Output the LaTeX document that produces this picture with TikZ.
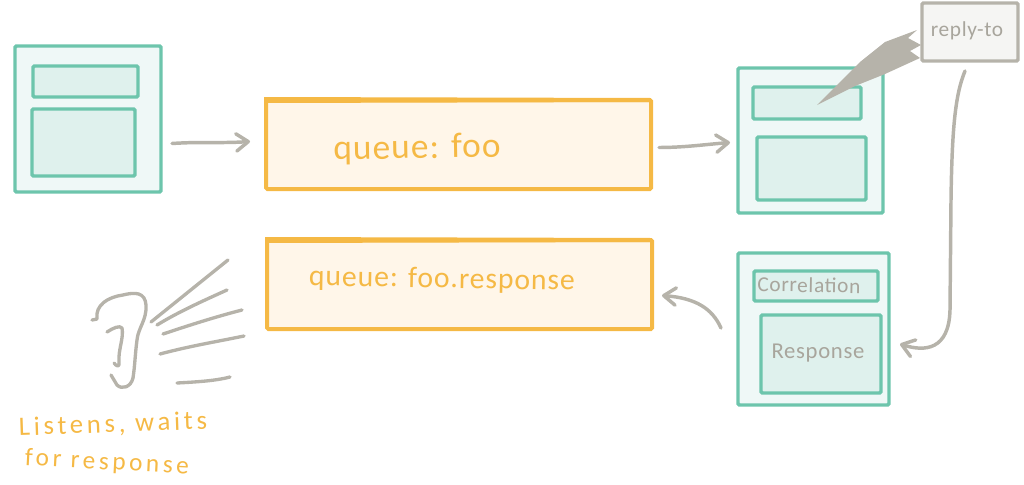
\documentclass[tikz,border=0pt]{standalone}
\usepackage{fontspec}
\usetikzlibrary{arrows.meta,calc}
\newfontfamily\hand[LetterSpace=3]{Carlito}
\newfontfamily\handwide[LetterSpace=14]{Carlito}
\definecolor{teal}{HTML}{6DC5AC}
\definecolor{tealA}{HTML}{EFF8F7}
\definecolor{tealB}{HTML}{DFF1ED}
\definecolor{amber}{HTML}{F5B945}
\definecolor{amberA}{HTML}{FFF6E9}
\definecolor{stone}{HTML}{B6B3AA}
\definecolor{paper}{HTML}{F5F5F3}
\tikzset{
  x=0.75pt,y=-0.75pt,
  basebox/.style={rectangle,inner sep=0pt,outer sep=0pt,rounded corners=1pt},
  msgouter/.style={basebox,draw=teal,fill=tealA,line width=2.6pt},
  msginner/.style={basebox,draw=teal,fill=tealB,line width=2.6pt},
  queuebox/.style={basebox,draw=amber,fill=amberA,line width=3pt},
  replybox/.style={basebox,draw=stone,fill=paper,line width=2.6pt},
  flow/.style={draw=stone,line width=2.6pt,line cap=round,line join=round,
    -{Straight Barb[length=9pt,width=13pt,line width=2.6pt,round]}},
  sketch/.style={draw=stone,line width=2.5pt,line cap=round,line join=round},
  amberlabel/.style={text=amber,inner sep=0pt},
  stonelabel/.style={text=stone!92!black,inner sep=0pt},
}
\newcommand{\bx}[6]{\node[#2,minimum width={(#5-#3)*0.75pt},minimum height={(#6-#4)*0.75pt}] (#1) at ({(#3+#5)/2},{(#4+#6)/2}) {};}
\begin{document}
\begin{tikzpicture}
\useasboundingbox (0,0) rectangle (1024,485);
% left message
\bx{msgA}{msgouter}{15}{46}{161}{192}
\bx{msgAh}{msginner}{33}{66}{138}{97}
\bx{msgAb}{msginner}{32}{109}{135}{176}
% queues
\bx{queueA}{queuebox}{266}{100}{651}{189}
\bx{queueB}{queuebox}{267}{240}{652}{329}
\fill[amber] (queueA.north west) ++(-2,-3) -- ++(386,1) -- ++(0,4) -- ++(-386,1) -- cycle;
\fill[amber] (queueB.north west) ++(-2,-3) -- ++(386,1) -- ++(0,4) -- ++(-386,1) -- cycle;
% right message
\bx{msgB}{msgouter}{738}{68}{883}{213}
\bx{msgBh}{msginner}{753}{87}{861}{119}
\bx{msgBb}{msginner}{757}{137}{866}{200}
% response message
\bx{msgC}{msgouter}{738}{253}{889}{405}
\bx{msgCh}{msginner}{754}{271}{878}{301}
\bx{msgCb}{msginner}{761}{315}{881}{393}
% reply-to
\bx{reply}{replybox}{922}{3}{1018}{61}
% texts
\node[amberlabel,font=\hand\fontsize{26.5pt}{26.5pt}\selectfont,rotate=1] (tQA) at (417,149) {queue: foo};
\node[amberlabel,font=\hand\fontsize{22.3pt}{22.3pt}\selectfont,rotate=-1] (tQB) at (442,280) {queue: foo.response};
\node[stonelabel,font=\hand\fontsize{16pt}{16pt}\selectfont] (tR) at (967,31) {reply-to};
\node[stonelabel,font=\hand\fontsize{16pt}{16pt}\selectfont,rotate=-1] (tC) at (809,285) {Correlation};
\node[stonelabel,font=\hand\fontsize{17pt}{17pt}\selectfont] (tP) at (818,353) {Response};
\node[amberlabel,font=\handwide\fontsize{20pt}{20pt}\selectfont,rotate=2] (tL1) at (113,425) {Listens, waits};
\node[amberlabel,font=\handwide\fontsize{19pt}{19pt}\selectfont,rotate=-3] (tL2) at (107,463) {for response};
% connectors
\coordinate (aS) at ($(msgA.east |- queueA.west)+(11,-1)$);
\coordinate (aE) at ($(queueA.west)+(-16,-3)$);
\draw[flow] (aS) .. controls ($(aS)+(30,-2)$) and ($(aE)+(-30,2)$) .. (aE);
\coordinate (bS) at ($(queueA.east)+(8,3)$);
\coordinate (bE) at ($(msgB.west |- queueA.east)+(-8,-2)$);
\draw[flow] (bS) .. controls ($(bS)+(25,0)$) and ($(bE)+(-25,2)$) .. (bE);
% reply-to fan
\fill[stone,line join=round] (msgBh.center) ++(10,2)
  -- (860,62) -- (885,42) -- (917,30) -- (908,38) -- (921,45) -- (910,51) -- (920,58) -- (885,74) -- (855,86) -- cycle;
% reply-to -> response
\coordinate (cS) at ($(reply.south)+(-5,10)$);
\coordinate (cE) at ($(msgC.east)+(11,15)$);
\draw[flow] (cS) .. controls (955,95) and (952,130) .. (951,200) -- (950,310)
  .. controls (949,350) and (925,352) .. (cE);
% response -> foo.response
\coordinate (dS) at ($(msgC.west)+(-17,-1)$);
\coordinate (dE) at ($(queueB.east)+(10,11)$);
\draw[flow] (dS) .. controls (712,308) and (695,298) .. (dE);
% ear
\draw[sketch] (92,320) -- (97,319) .. controls (95,305) and (108,297) .. (123,295)
  .. controls (135,292) and (145,292) .. (146,305) .. controls (147,320) and (138,328) .. (137,340)
  .. controls (135,355) and (135,365) .. (133,378) .. controls (131,387) and (122,390) .. (117,385)
  -- (111,375);
\draw[sketch] (107,332) .. controls (113,328) and (120,325) .. (122,328) .. controls (124,338) and (118,350) .. (119,362)
  .. controls (120,368) and (116,366) .. (114,363);
% sound lines
\draw[sketch] (151,322) -- (228,260);
\draw[sketch] (157,325) .. controls (180,311) and (205,300) .. (227,290);
\draw[sketch] (163,334) .. controls (190,325) and (215,317) .. (242,310);
\draw[sketch] (160,354) .. controls (190,346) and (215,342) .. (244,336);
\draw[sketch] (177,383) .. controls (195,382) and (215,381) .. (230,377);
\end{tikzpicture}
\end{document}
